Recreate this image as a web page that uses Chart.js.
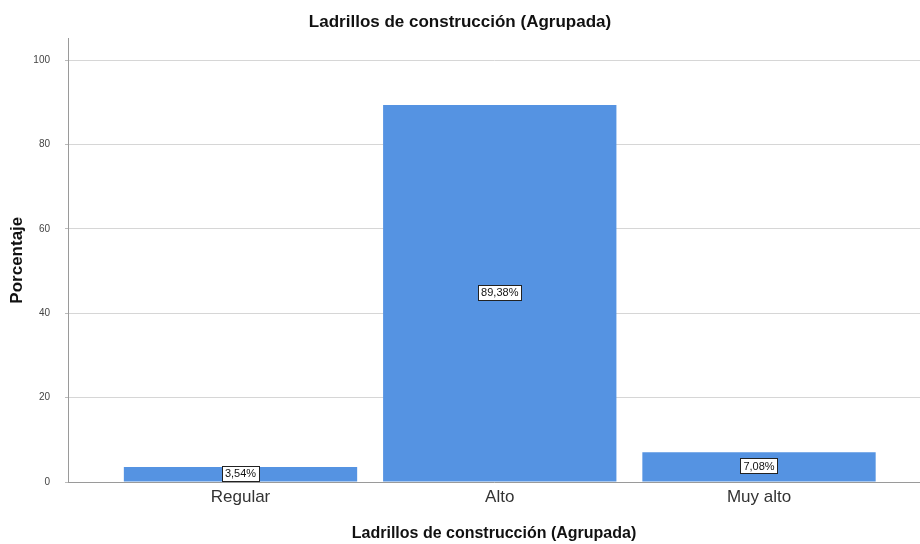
<!DOCTYPE html>
<html><head><meta charset="utf-8">
<script src="https://cdn.jsdelivr.net/npm/chart.js@4/dist/chart.umd.min.js"></script>
<style>html,body{margin:0;padding:0;background:#fff}#wrap{width:920px;height:544px}</style>
</head><body><div id="wrap"><canvas id="c" width="920" height="544"></canvas></div>
<script>
const categories = ["Regular", "Alto", "Muy alto"];
const percentages = [3.54, 89.38, 7.08];
const yTicks = [0, 20, 40, 60, 80, 100];
const chartTitle = "Ladrillos de construcción (Agrupada)";
const xTitle = "Ladrillos de construcción (Agrupada)";
const yTitle = "Porcentaje";

const FONT = "'Liberation Sans', Arial, sans-serif";
const FONTB = "'Liberation Sans', Arial, sans-serif";

const labelPlugin = {
  id: 'barLabels',
  afterDatasetsDraw(chart) {
    const ctx = chart.ctx;
    const meta = chart.getDatasetMeta(0);
    ctx.save();
    ctx.font = "11px " + FONT;
    ctx.textAlign = 'center';
    ctx.textBaseline = 'middle';
    meta.data.forEach((el, i) => {
      const txt = percentages[i].toFixed(2).replace('.', ',') + '%';
      const cx = el.x, cy = (el.y + el.base) / 2 - 1;
      const w = ctx.measureText(txt).width + 6, h = 15;
      ctx.fillStyle = '#fff';
      ctx.fillRect(Math.round(cx - w / 2) + 0.5, Math.round(cy - h / 2) + 0.5, Math.round(w), h);
      ctx.strokeStyle = '#222';
      ctx.lineWidth = 1;
      ctx.strokeRect(Math.round(cx - w / 2) + 0.5, Math.round(cy - h / 2) + 0.5, Math.round(w), h);
      ctx.fillStyle = '#111';
      ctx.fillText(txt, cx, cy + 1);
    });
    ctx.restore();
  }
};

new Chart(document.getElementById('c'), {
  type: 'bar',
  data: {
    datasets: [{
      data: categories.map((c, i) => ({ x: i + 1, y: percentages[i] })),
      backgroundColor: '#5593e2',
      borderWidth: 0,
      categoryPercentage: 1,
      barPercentage: 0.9
    }]
  },
  options: {
    responsive: false,
    animation: false,
    layout: { padding: 0 },
    plugins: {
      legend: { display: false },
      tooltip: { enabled: false },
      title: {
        display: true,
        text: chartTitle,
        color: '#111',
        font: { family: FONTB, size: 17, weight: 'bold' },
        padding: { top: 12, bottom: 6 }
      }
    },
    scales: {
      x: {
        type: 'linear',
        offset: false,
        min: 0.3346,
        max: 3.621,
        afterBuildTicks(scale) { scale.ticks = categories.map((c, i) => ({ value: i + 1 })); },
        afterFit(scale) { scale.height = 62; },
        grid: { display: false, drawTicks: false, offset: false },
        border: { display: true, color: '#9a9a9a', width: 1 },
        ticks: {
          padding: 5,
          color: '#333',
          font: { family: FONT, size: 17 },
          callback: (v) => categories[Math.round(v) - 1] || ''
        },
        title: {
          display: true,
          text: xTitle,
          color: '#111',
          font: { family: FONTB, size: 16, weight: 'bold' },
          padding: { top: 0, bottom: 1 }
        }
      },
      y: {
        min: 0,
        max: 105.2,
        afterBuildTicks(scale) { scale.ticks = yTicks.map(v => ({ value: v })); },
        afterFit(scale) { scale.width = 68; },
        grid: { color: '#d6d6d6', tickLength: 3, drawTicks: true, tickColor: '#bbb' },
        border: { display: true, color: '#9a9a9a', width: 1 },
        ticks: {
          padding: 15,
          color: '#444',
          font: { family: FONT, size: 10 }
        },
        title: {
          display: true,
          text: yTitle,
          color: '#111',
          font: { family: FONTB, size: 17, weight: 'bold' },
          padding: { top: 7, bottom: 0 }
        }
      }
    }
  },
  plugins: [labelPlugin]
});
</script></body></html>
